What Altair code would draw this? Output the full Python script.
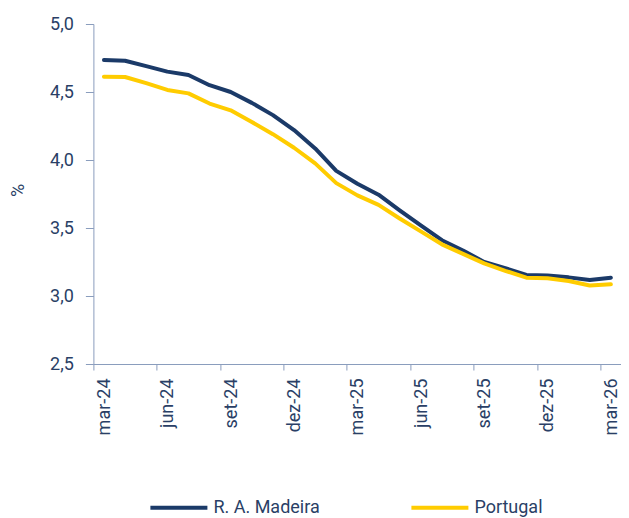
import altair as alt
import pandas as pd

months = ["mar-24", "abr-24", "mai-24", "jun-24", "jul-24", "ago-24", "set-24", "out-24",
          "nov-24", "dez-24", "jan-25", "fev-25", "mar-25", "abr-25", "mai-25", "jun-25",
          "jul-25", "ago-25", "set-25", "out-25", "nov-25", "dez-25", "jan-26", "fev-26", "mar-26"]
madeira = [4.735, 4.730, 4.690, 4.650, 4.625, 4.550, 4.500, 4.420, 4.330, 4.220, 4.085, 3.920,
           3.825, 3.745, 3.630, 3.520, 3.410, 3.335, 3.250, 3.205, 3.155, 3.150, 3.137, 3.118, 3.135]
portugal = [4.613, 4.610, 4.565, 4.515, 4.490, 4.415, 4.365, 4.280, 4.190, 4.090, 3.975, 3.830,
            3.740, 3.670, 3.570, 3.475, 3.380, 3.310, 3.240, 3.185, 3.135, 3.130, 3.110, 3.077, 3.086]
series_names = ["R. A. Madeira", "Portugal"]
series_colors = ["#1b3a68", "#ffcc00"]
tick_labels = ["mar-24", "jun-24", "set-24", "dez-24", "mar-25", "jun-25", "set-25", "dez-25", "mar-26"]
y_ticks = [2.5, 3.0, 3.5, 4.0, 4.5, 5.0]

rows = []
for name, vals in zip(series_names, [madeira, portugal]):
    for i, (m, v) in enumerate(zip(months, vals)):
        rows.append({"pos": i + 0.5, "mes": m, "serie": name, "valor": v})
df = pd.DataFrame(rows)

tick_pos = [i * 3 for i in range(len(tick_labels))]
label_expr = "[" + ",".join(f"'{t}'" for t in tick_labels) + "][round(datum.value / 3)]"

text_color = "#2a3f66"
axis_color = "#8a9dbd"
font = "Roboto"
fs = 18

chart = alt.Chart(df).mark_line(strokeWidth=4, strokeJoin="round", strokeCap="round").encode(
    x=alt.X("pos:Q",
            scale=alt.Scale(domain=[0, 24.98], nice=False, zero=False),
            axis=alt.Axis(values=tick_pos, labelExpr=label_expr, title=None,
                          labelAngle=270, labelAlign="right", labelBaseline="middle",
                          labelOffset=11, tickSize=6, labelPadding=8,
                          grid=False, domainColor=axis_color, tickColor=axis_color,
                          labelColor=text_color, labelFont=font, labelFontSize=fs)),
    y=alt.Y("valor:Q",
            scale=alt.Scale(domain=[2.5, 5.0], nice=False, zero=False),
            axis=alt.Axis(values=y_ticks,
                          labelExpr="replace(format(datum.value, '.1f'), '.', ',')",
                          title="%", titleX=-75, titleY=166, titleAngle=270,
                          titleAlign="center", titleBaseline="middle",
                          titleColor=text_color, titleFont=font, titleFontSize=fs,
                          titleFontWeight="normal",
                          tickSize=8, labelPadding=12, grid=False,
                          domainColor=axis_color, tickColor=axis_color,
                          labelColor=text_color, labelFont=font, labelFontSize=fs)),
    color=alt.Color("serie:N",
                    scale=alt.Scale(domain=series_names, range=series_colors),
                    legend=alt.Legend(title=None, orient="none", legendX=55, legendY=453,
                                      direction="horizontal", symbolType="stroke",
                                      symbolSize=3249, symbolStrokeWidth=4,
                                      columnPadding=83, labelOffset=4, padding=0,
                                      labelColor=text_color, labelFont=font,
                                      labelFontSize=fs, labelLimit=300)),
).properties(
    width=527.6, height=340,
    autosize=alt.AutoSizeParams(type="none"),
    padding={"left": 85.4, "top": 16, "right": 0, "bottom": 154},
).configure_view(stroke=None)

chart.save("out.html", embed_options={"renderer": "svg", "actions": False})
